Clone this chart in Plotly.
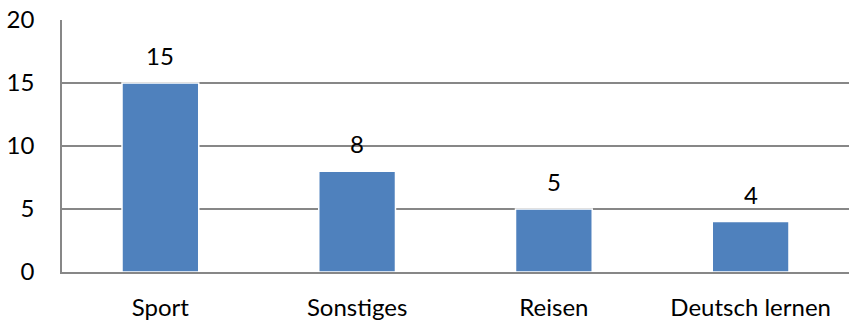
import plotly.graph_objects as go

categories = ["Sport", "Sonstiges", "Reisen", "Deutsch lernen"]
values = [15, 8, 5, 4]
y_ticks = [0, 5, 10, 15, 20]

BAR_COLOR = "#4F81BD"
GRID_COLOR = "#878787"
FONT = dict(family="Lato, Open Sans, sans-serif", size=24, color="#000000")

fig = go.Figure()
fig.add_trace(go.Bar(
    x=categories,
    y=values,
    marker=dict(color=BAR_COLOR, line=dict(color="#FFFFFF", width=1.5)),
    width=0.39,
))

# value labels sitting above each bar
for c, v in zip(categories, values):
    fig.add_annotation(x=c, y=v, text=str(v), showarrow=False,
                       yanchor="bottom", yshift=11, font=FONT)

fig.update_layout(
    width=849, height=324,
    margin=dict(l=62, r=0, t=20, b=52),
    paper_bgcolor="white", plot_bgcolor="white",
    font=FONT,
    showlegend=False,
    bargap=0.61,
)
fig.update_yaxes(
    range=[0, 20], tickvals=y_ticks,
    showgrid=True, gridcolor=GRID_COLOR, gridwidth=1.5,
    showline=True, linecolor=GRID_COLOR, linewidth=1.5,
    zeroline=False, ticks="", ticklabelstandoff=21,
    tickfont=FONT,
)
fig.update_xaxes(
    showline=True, linecolor=GRID_COLOR, linewidth=1.5,
    ticks="", tickfont=FONT, ticklabelstandoff=13,
)

fig.write_html("out.html")
